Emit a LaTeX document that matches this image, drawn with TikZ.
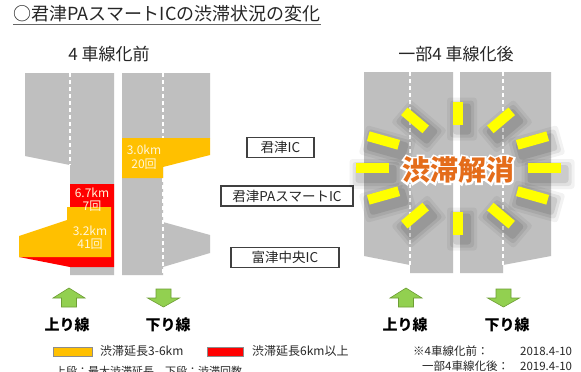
\documentclass[tikz,border=0pt]{standalone}
\usepackage{fontspec}
\setmainfont{Noto Sans CJK JP}
\definecolor{roadgray}{HTML}{BFBFBF}
\definecolor{jamyellow}{HTML}{FFC000}
\definecolor{jamred}{HTML}{FF0000}
\definecolor{rayyellow}{HTML}{FFFF00}
\definecolor{arrowgreen}{HTML}{92D050}
\definecolor{arrowedge}{HTML}{6E9E35}
\definecolor{textorange}{HTML}{E46C1A}
\definecolor{boxedge}{HTML}{404040}
\definecolor{txt}{HTML}{262626}
\definecolor{labeltxt}{HTML}{FFF6D8}
\tikzset{
  road/.style={fill=roadgray, draw=none},
  lanedash/.style={white, line width=1.4pt, dash pattern=on 4pt off 3pt},
  icbox/.style={draw=boxedge, line width=1.3pt, inner sep=0pt, minimum height=20pt, text=txt, font=\fontsize{13.5}{15}\selectfont},
  jamlabel/.style={text=labeltxt, align=center, font=\fontsize{12}{13.5}\selectfont, inner sep=0pt},
  arrowsty/.style={fill=arrowgreen, draw=arrowedge, line width=0.6pt, line join=miter},
  dirlabel/.style={text=black, font=\bfseries\fontsize{15}{17}\selectfont, inner sep=0pt},
  heading/.style={text=txt, font=\fontsize{17}{19}\selectfont, inner sep=0pt},
  legtext/.style={text=txt, font=\fontsize{12}{14}\selectfont, inner sep=0pt, anchor=west},
  notetext/.style={text=txt, font=\fontsize{11.5}{13}\selectfont, inner sep=0pt},
  swatch/.style={draw=black!45, line width=0.6pt},
  uparrow/.pic={\filldraw[arrowsty] (0,288) -- (16,298) -- (7.5,298) -- (7.5,307) -- (-7.5,307) -- (-7.5,298) -- (-16,298) -- cycle;},
  downarrow/.pic={\filldraw[arrowsty] (0,307) -- (16,298) -- (7.5,298) -- (7.5,289) -- (-7.5,289) -- (-7.5,298) -- (-16,298) -- cycle;}
}
\begin{document}
\begin{tikzpicture}[x=1pt,y=-1pt]
\useasboundingbox (0,0) rectangle (581,372);
\fill[white] (0,0) rectangle (581,372);

% title
\node[text=txt, font=\fontsize{18}{20}\selectfont, inner sep=0pt, anchor=base west] (title) at (13,20.5) {○君津PAスマートICの渋滞状況の変化};
\draw[black!60, line width=1pt] ([yshift=-3.5pt]title.base west) -- ([yshift=-3.5pt]title.base east);

% headings
\node[heading] (before) at (109,54) {4 車線化前};
\node[heading] (after) at (456,54) {一部4 車線化後};

% ---- before: left road (上り)
\fill[road] (25,73) -- (114,73) -- (114,275) -- (70,275) -- (70,165) -- (25,156) -- cycle;
\draw[lanedash] (70,73) -- (70,165);
\fill[jamred] (70,184) -- (114,184) -- (114,267) -- (70,267) -- (19,257) -- (67,257) -- (67,207) -- (70,207) -- cycle;
\fill[jamyellow] (19,236) -- (67,220) -- (67,207) -- (111,207) -- (111,257) -- (19,257) -- cycle;
\node[jamlabel] (l67) at (92,199.5) {6.7km\\7回};
\node[jamlabel] (l32) at (90,237.5) {3.2km\\41回};

% ---- before: right road (下り)
\fill[road] (122,73) -- (210,73) -- (210,138) -- (163,138) -- (163,275) -- (122,275) -- cycle;
\fill[road] (163,222) -- (210,235) -- (210,253) -- (163,267) -- cycle;
\draw[lanedash] (163,73) -- (163,138);
\draw[lanedash] (163,178) -- (163,275);
\fill[jamyellow] (122,138) -- (210,138) -- (210,155) -- (163,167) -- (163,178) -- (122,178) -- cycle;
\node[jamlabel] (l30) at (144,157) {3.0km\\20回};

% ---- IC boxes
\node[icbox, minimum width=67pt] (kimitsu) at (280.5,147.5) {君津IC};
\node[icbox, minimum width=132pt] (pa) at (287,196) {君津PAスマートIC};
\node[icbox, minimum width=108pt] (futtsu) at (285,257.5) {富津中央IC};

% ---- after: roads
\fill[road] (364,72) -- (453,72) -- (453,273) -- (410,273) -- (410,265) -- (364,256) -- cycle;
\fill[road] (460,72) -- (551,72) -- (551,256) -- (503,265) -- (503,273) -- (460,273) -- cycle;
\draw[lanedash] (410,72) -- (410,265);
\draw[lanedash] (503,72) -- (503,265);

% rays with soft shadow
\foreach \t in {0,30,...,330}{
  \pgfmathsetmacro{\px}{458+86*cos(\t)}
  \pgfmathsetmacro{\py}{168-55*sin(\t)}
  \pgfmathsetmacro{\ang}{atan2(42*sin(\t),86*cos(\t))}
  \pgfmathsetmacro{\hl}{11.5+5*abs(cos(\t))}
  \foreach \g/\o in {10/0.05,7/0.07,4/0.09}{
    \fill[black, opacity=\o, rounded corners=3pt, shift={(\px+4,\py+6)}, rotate=\ang] (-\hl-\g,-5-\g) rectangle (\hl+\g,5+\g);
  }
}
\foreach \t in {0,30,...,330}{
  \pgfmathsetmacro{\px}{458+86*cos(\t)}
  \pgfmathsetmacro{\py}{168-55*sin(\t)}
  \pgfmathsetmacro{\ang}{atan2(42*sin(\t),86*cos(\t))}
  \pgfmathsetmacro{\hl}{11.5+5*abs(cos(\t))}
  \fill[rayyellow, shift={(\px,\py)}, rotate=\ang] (-\hl,-5) rectangle (\hl,5);
}
% glowing text: a fake-bold white copy under the orange text
\node[text=white, font=\bfseries\fontsize{28}{30}\selectfont\addfontfeature{FakeBold=14}, inner sep=0pt] (glow) at (458,170) {渋滞解消};
\node[text=textorange, font=\bfseries\fontsize{28}{30}\selectfont, inner sep=0pt] (kaisho) at (458,170) {渋滞解消};

% ---- direction arrows
\pic at (69,0) {uparrow};
\pic at (163.5,0) {downarrow};
\pic at (406,0) {uparrow};
\pic at (503.5,0) {downarrow};
\node[dirlabel] (up1) at (67,325) {上り線};
\node[dirlabel] (down1) at (168,325) {下り線};
\node[dirlabel] (up2) at (405,325) {上り線};
\node[dirlabel] (down2) at (507,325) {下り線};

% ---- legend
\filldraw[swatch, fill=jamyellow] (53,347) rectangle (92,356);
\node[legtext] (leg1) at (100,351.5) {渋滞延長3-6km};
\filldraw[swatch, fill=jamred] (207,347) rectangle (243,356);
\node[legtext] (leg2) at (252,351.5) {渋滞延長6km以上};
\node[text=txt, font=\fontsize{11}{13}\selectfont, inner sep=0pt, anchor=north west] (note1) at (55,366.5) {上段：最大渋滞延長\quad 下段：渋滞回数};

% ---- period notes
\node[notetext, anchor=west] (pre) at (413,351) {※4車線化前：};
\node[notetext, anchor=west] (prep) at (520,351) {2018.4-10};
\node[notetext, anchor=west] (post) at (422,366) {一部4車線化後：};
\node[notetext, anchor=west] (postp) at (520,366) {2019.4-10};
\end{tikzpicture}
\end{document}
